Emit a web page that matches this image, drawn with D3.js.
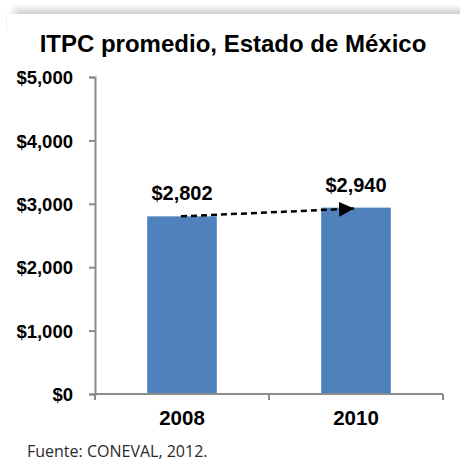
<!DOCTYPE html>
<html>
<head>
<meta charset="utf-8">
<script src="https://cdn.jsdelivr.net/npm/d3@7"></script>
<style>
  html, body { margin: 0; padding: 0; background: #fff; overflow: hidden; }
  svg { display: block; }
  .tick text { font-family: Arial, "Liberation Sans", sans-serif; font-weight: bold; fill: #000; }
</style>
</head>
<body>
<div id="chart"></div>
<script>
const years = ['2008', '2010'];
const itpc = [2802, 2940];
const yTicks = [0, 1000, 2000, 3000, 4000, 5000];
const title = 'ITPC promedio, Estado de México';
const source = 'Fuente: CONEVAL, 2012.';

const width = 460, height = 464;
const marginLeft = 95, marginRight = 17, marginTop = 77, marginBottom = 70;
const innerWidth = width - marginLeft - marginRight;
const innerHeight = height - marginTop - marginBottom;

const svg = d3.select('#chart').append('svg')
  .attr('width', width)
  .attr('height', height);

const defs = svg.append('defs');
const shadow = defs.append('linearGradient')
  .attr('id', 'shadow').attr('x1', 0).attr('y1', 0).attr('x2', 0).attr('y2', 1);
shadow.append('stop').attr('offset', '0%').attr('stop-color', '#fafafa');
shadow.append('stop').attr('offset', '100%').attr('stop-color', '#d0d0d0');
const fadeL = defs.append('linearGradient')
  .attr('id', 'fadeL').attr('x1', 0).attr('y1', 0).attr('x2', 1).attr('y2', 0);
fadeL.append('stop').attr('offset', '0%').attr('stop-color', '#fff').attr('stop-opacity', 1);
fadeL.append('stop').attr('offset', '100%').attr('stop-color', '#fff').attr('stop-opacity', 0);

// top shadow band
svg.append('rect').attr('x', 8).attr('y', 5).attr('width', width - 8).attr('height', 9)
  .attr('fill', 'url(#shadow)');
svg.append('rect').attr('x', 8).attr('y', 4).attr('width', 12).attr('height', 11)
  .attr('fill', 'url(#fadeL)');
svg.append('line').attr('x1', 6.5).attr('x2', 6.5).attr('y1', 15).attr('y2', 30)
  .attr('stroke', '#f0f0f0');

svg.append('text')
  .attr('x', 233).attr('y', 52)
  .attr('text-anchor', 'middle')
  .style('font-family', 'Arial, "Liberation Sans", sans-serif')
  .style('font-weight', 'bold')
  .style('font-size', '24px')
  .text(title);

const chart = svg.append('g')
  .attr('transform', 'translate(' + marginLeft + ',' + marginTop + ')');

const x = d3.scaleBand().domain(years).range([0, innerWidth]).paddingInner(0.6).paddingOuter(0.3);
const xb = d3.scaleBand().domain(years).range([0, innerWidth]);
const y = d3.scaleLinear().domain([0, 5000]).range([innerHeight, 0]);

// bars
chart.selectAll('rect.bar').data(itpc).enter().append('rect')
  .attr('class', 'bar')
  .attr('x', (d, i) => x(years[i]))
  .attr('y', d => y(d))
  .attr('width', x.bandwidth())
  .attr('height', d => innerHeight - y(d))
  .attr('fill', '#4f81bd');

// y axis
const yAxis = chart.append('g')
  .call(d3.axisLeft(y).tickValues(yTicks).tickSize(6).tickPadding(16)
    .tickFormat(d => '$' + d3.format(',')(d)));
yAxis.selectAll('text').style('font-size', '18.5px').attr('dy', '0.36em');

// x axis
const xAxis = chart.append('g')
  .attr('transform', 'translate(0,' + innerHeight + ')')
  .call(d3.axisBottom(xb).tickSize(0).tickPadding(16));
xAxis.select('.domain').remove();
xAxis.selectAll('text').style('font-size', '20.5px');
xAxis.append('line').attr('class', 'base')
  .attr('x1', 0).attr('x2', innerWidth).attr('y1', 0).attr('y2', 0);
xAxis.selectAll('line.sep').data([0].concat(years.map(d => xb(d) + xb.bandwidth())))
  .enter().append('line').attr('class', 'sep')
  .attr('x1', d => d).attr('x2', d => d).attr('y1', 0).attr('y2', 6);

svg.selectAll('.domain, .tick line, line.sep, line.base')
  .attr('stroke', '#8c8c8c').attr('stroke-width', 2);

// value labels
chart.selectAll('text.val').data(itpc).enter().append('text')
  .attr('class', 'val')
  .attr('x', (d, i) => x(years[i]) + x.bandwidth() / 2)
  .attr('y', d => y(d) - 16)
  .attr('text-anchor', 'middle')
  .style('font-family', 'Arial, "Liberation Sans", sans-serif')
  .style('font-weight', 'bold')
  .style('font-size', '20px')
  .text(d => '$' + d3.format(',')(d));

// dashed trend arrow
defs.append('marker')
  .attr('id', 'arrow').attr('viewBox', '0 0 10 10')
  .attr('refX', 10).attr('refY', 5)
  .attr('markerWidth', 6).attr('markerHeight', 6)
  .attr('markerUnits', 'strokeWidth')
  .attr('orient', 'auto')
  .append('path').attr('d', 'M0,0 L10,5 L0,10 Z').attr('fill', '#000');

const cx = i => x(years[i]) + x.bandwidth() / 2;
chart.append('line')
  .attr('x1', cx(0) - 1).attr('y1', y(itpc[0]))
  .attr('x2', cx(1) - 2).attr('y2', y(itpc[1]) + 1)
  .attr('stroke', '#000').attr('stroke-width', 2.5)
  .attr('stroke-dasharray', '6,4')
  .attr('marker-end', 'url(#arrow)');

svg.append('text')
  .attr('x', 27).attr('y', 457)
  .style('font-family', '"Open Sans", Carlito, sans-serif')
  .style('font-size', '16px')
  .attr('fill', '#2a2a2a')
  .text(source);
</script>
</body>
</html>
